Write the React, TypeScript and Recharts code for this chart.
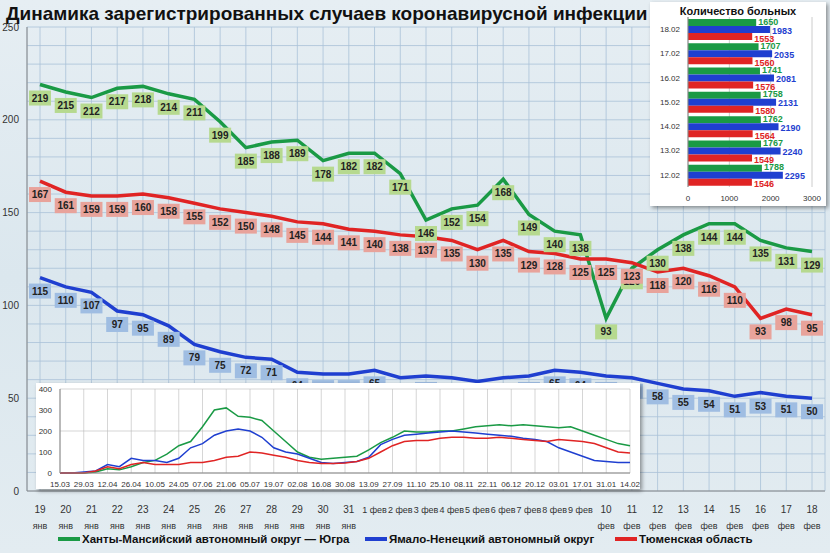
import React from 'react'
import {
  LineChart, Line, XAxis, YAxis, CartesianGrid, LabelList,
  BarChart, Bar,
} from 'recharts'

const DAYS = ['19|янв', '20|янв', '21|янв', '22|янв', '23|янв', '24|янв', '25|янв', '26|янв', '27|янв', '28|янв', '29|янв', '30|янв', '31|янв',
  '1 фев', '2 фев', '3 фев', '4 фев', '5 фев', '6 фев', '7 фев', '8 фев', '9 фев',
  '10|фев', '11|фев', '12|фев', '13|фев', '14|фев', '15|фев', '16|фев', '17|фев', '18|фев']
const HMAO = [219, 215, 212, 217, 218, 214, 211, 199, 185, 188, 189, 178, 182, 182, 171, 146, 152, 154, 168, 149, 140, 138, 93, 120, 130, 138, 144, 144, 135, 131, 129]
const TYUMEN = [167, 161, 159, 159, 160, 158, 155, 152, 150, 148, 145, 144, 141, 140, 138, 137, 135, 130, 135, 129, 128, 125, 125, 123, 118, 120, 116, 110, 93, 98, 95]
const YANAO = [115, 110, 107, 97, 95, 89, 79, 75, 72, 71, 64, 63, 63, 65, 61, 62, 61, 59, 61, 62, 65, 64, 62, 61, 58, 55, 54, 51, 53, 51, 50]
const Y_TICKS = [0, 10, 20, 30, 40, 50, 60, 70, 80, 90, 100, 110, 120, 130, 140, 150, 160, 170, 180, 190, 200, 210, 220, 230, 240, 250]

const BAR_DATES = ['18.02', '17.02', '16.02', '15.02', '14.02', '13.02', '12.02']
const BAR_HMAO = [1650, 1707, 1741, 1758, 1762, 1767, 1788]
const BAR_YANAO = [1983, 2035, 2081, 2131, 2190, 2240, 2295]
const BAR_TYUMEN = [1553, 1560, 1576, 1580, 1564, 1549, 1546]

const WEEKS = ['15.03', '22.03', '29.03', '05.04', '12.04', '19.04', '26.04', '03.05', '10.05', '17.05', '24.05', '31.05', '07.06', '14.06', '21.06', '28.06', '05.07', '12.07', '19.07', '26.07', '02.08', '09.08', '16.08', '23.08', '30.08', '06.09', '13.09', '20.09', '27.09', '04.10', '11.10', '18.10', '25.10', '01.11', '08.11', '15.11', '22.11', '29.11', '06.12', '13.12', '20.12', '27.12', '03.01', '10.01', '17.01', '24.01', '31.01', '07.02', '14.02']
const W_HMAO = [0, 0, 0, 5, 20, 15, 30, 50, 60, 90, 130, 150, 220, 300, 310, 270, 265, 250, 200, 150, 100, 75, 65, 70, 75, 80, 110, 145, 170, 200, 195, 195, 200, 200, 210, 220, 225, 230, 225, 230, 225, 220, 215, 220, 200, 180, 160, 140, 130]
const W_YANAO = [0, 0, 5, 10, 40, 30, 70, 60, 60, 50, 70, 120, 140, 180, 200, 210, 200, 170, 120, 100, 90, 70, 50, 45, 50, 55, 75, 135, 160, 180, 185, 190, 195, 200, 195, 190, 185, 180, 175, 165, 160, 150, 120, 100, 80, 60, 55, 50, 50]
const W_TYUMEN = [0, 0, 0, 10, 30, 20, 40, 50, 40, 40, 40, 50, 50, 60, 75, 80, 100, 95, 85, 75, 60, 50, 45, 45, 48, 55, 70, 100, 130, 150, 155, 155, 165, 170, 170, 165, 165, 170, 165, 160, 155, 150, 160, 155, 150, 140, 120, 100, 95]

const GREEN = '#1a9a45'
const BLUE = '#1f3fd0'
const RED = '#e02424'

const mainData = DAYS.map((d, i) => ({ d, h: HMAO[i], t: TYUMEN[i], y: YANAO[i] }))
const barData = BAR_DATES.map((d, i) => ({ d, h: BAR_HMAO[i], y: BAR_YANAO[i], t: BAR_TYUMEN[i] }))
const weekData = WEEKS.map((d, i) => ({ d, h: W_HMAO[i], y: W_YANAO[i], t: W_TYUMEN[i] }))

const boxLabel = (bg: string) => (p: any) => {
  const { x, y, value } = p
  return (
    <g>
      <rect x={x - 11} y={y + 6} width={22} height={15} fill={bg} />
      <text x={x} y={y + 17} textAnchor="middle" fontSize={10} fontWeight={600} fill="#222">{value}</text>
    </g>
  )
}

const DayTick = (p: any) => {
  const { x, y, payload } = p
  const parts = String(payload.value).split('|')
  return (
    <g>
      <text x={x} y={y + 14} textAnchor="middle" fontSize={parts[1] ? 10 : 9} fill="#333">{parts[0]}</text>
      {parts[1] && <text x={x} y={y + 30} textAnchor="middle" fontSize={9} fill="#333">{parts[1]}</text>}
    </g>
  )
}

const barLabel = (color: string, dy: number) => (p: any) => (
  <text x={p.x + p.width + 2} y={p.y + p.height / 2 + 3 + dy} fontSize={9} fontWeight={700} fill={color}>{p.value}</text>
)

const LEGEND = [
  { name: 'Ханты-Мансийский автономный округ — Югра', color: GREEN, left: 58 },
  { name: 'Ямало-Ненецкий автономный округ', color: BLUE, left: 365 },
  { name: 'Тюменская область', color: RED, left: 615 },
]

export default function App() {
  return (
    <div style={{ position: 'absolute', left: 0, top: 0, width: 830, height: 553, overflow: 'hidden',
      background: 'linear-gradient(180deg,#e6eef3 0%,#dbe7ee 50%,#e3ecf1 100%)', fontFamily: '"Liberation Sans", Arial, sans-serif' }}>
      <LineChart width={830} height={553} data={mainData} margin={{ top: 27, right: 5, bottom: 22, left: 0 }}>
        <CartesianGrid stroke="#a9c2d8" strokeWidth={0.8} />
        <XAxis dataKey="d" interval={0} tick={<DayTick />} tickLine={false} axisLine={{ stroke: '#888' }} height={40} padding={{ left: 13, right: 13 }} />
        <YAxis domain={[0, 250]} ticks={Y_TICKS} interval={0} width={27} axisLine={{ stroke: '#888' }} tickLine={false}
          tick={{ fontSize: 10, fill: '#333' }} tickFormatter={(v: number) => (v % 50 === 0 ? String(v) : '')} />
        <Line dataKey="h" stroke={GREEN} strokeWidth={3.5} dot={false} isAnimationActive={false}>
          <LabelList dataKey="h" content={boxLabel('#b6d98f')} />
        </Line>
        <Line dataKey="t" stroke={RED} strokeWidth={3.5} dot={false} isAnimationActive={false}>
          <LabelList dataKey="t" content={boxLabel('#e8a39b')} />
        </Line>
        <Line dataKey="y" stroke={BLUE} strokeWidth={3.5} dot={false} isAnimationActive={false}>
          <LabelList dataKey="y" content={boxLabel('#9fbde2')} />
        </Line>
      </LineChart>

      <div style={{ position: 'absolute', left: 6, top: 3, fontSize: 19, fontWeight: 700, color: '#111', whiteSpace: 'nowrap' }}>
        Динамика зарегистрированных случаев коронавирусной инфекции
      </div>

      {LEGEND.map(l => (
        <div key={l.name} style={{ position: 'absolute', left: l.left, top: 533, display: 'flex', alignItems: 'center', fontSize: 11.5, fontWeight: 700, color: '#111', whiteSpace: 'nowrap' }}>
          <span style={{ display: 'inline-block', width: 22, height: 4, background: l.color, marginRight: 2 }} />{l.name}
        </div>
      ))}

      <div style={{ position: 'absolute', left: 36, top: 383, width: 604, height: 106, background: '#fff', boxShadow: '2px 2px 4px rgba(0,0,0,0.4)' }}>
        <LineChart width={604} height={106} data={weekData} margin={{ top: 6, right: 10, bottom: 0, left: 0 }}>
          <CartesianGrid stroke="#bbb" strokeWidth={0.6} />
          <XAxis dataKey="d" interval={1} tick={{ fontSize: 8, fill: '#333' }} tickLine={false} axisLine={{ stroke: '#888' }} height={16} />
          <YAxis domain={[0, 400]} ticks={[0, 100, 200, 300, 400]} width={24} tick={{ fontSize: 8, fill: '#333' }} tickLine={false} axisLine={{ stroke: '#888' }} />
          <Line dataKey="h" stroke={GREEN} strokeWidth={1.5} dot={false} isAnimationActive={false} />
          <Line dataKey="y" stroke={BLUE} strokeWidth={1.5} dot={false} isAnimationActive={false} />
          <Line dataKey="t" stroke={RED} strokeWidth={1.5} dot={false} isAnimationActive={false} />
        </LineChart>
      </div>

      <div style={{ position: 'absolute', left: 650, top: 2, width: 176, height: 204, background: '#fff', boxShadow: '2px 2px 4px rgba(0,0,0,0.4)' }}>
        <div style={{ textAlign: 'center', fontSize: 11, fontWeight: 700, marginTop: 3, color: '#111' }}>Количество больных</div>
        <BarChart layout="vertical" width={176} height={188} data={barData} barCategoryGap={2} barGap={0}
          margin={{ top: 0, right: 14, bottom: 0, left: 0 }}>
          <CartesianGrid stroke="#ccc" horizontal={false} />
          <XAxis type="number" domain={[0, 3000]} ticks={[0, 1000, 2000, 3000]} tick={{ fontSize: 8, fill: '#333' }} tickLine={false} axisLine={false} height={18} />
          <YAxis type="category" dataKey="d" width={38} tick={{ fontSize: 8, fill: '#333' }} tickLine={false} axisLine={{ stroke: '#888' }} />
          <Bar dataKey="h" fill={GREEN} isAnimationActive={false}><LabelList dataKey="h" content={barLabel(GREEN, -1)} /></Bar>
          <Bar dataKey="y" fill={BLUE} isAnimationActive={false}><LabelList dataKey="y" content={barLabel(BLUE, 1)} /></Bar>
          <Bar dataKey="t" fill={RED} isAnimationActive={false}><LabelList dataKey="t" content={barLabel(RED, 2)} /></Bar>
        </BarChart>
      </div>
    </div>
  )
}
